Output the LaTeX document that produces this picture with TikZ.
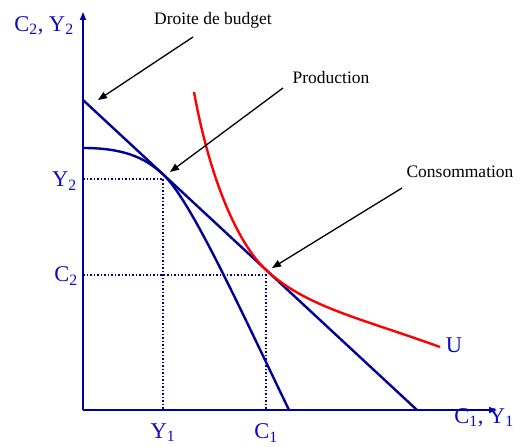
\documentclass[tikz,border=0pt]{standalone}
\usepackage{fontspec}
\setmainfont{Liberation Serif}
\usetikzlibrary{arrows.meta,calc}
\definecolor{navy}{RGB}{0,0,150}
\definecolor{lblue}{RGB}{10,10,200}
\begin{document}
\begin{tikzpicture}[x=1pt,y=-1pt,
  axis/.style={navy,line width=1.6pt,-{Triangle[length=8pt,width=6pt]}},
  curve/.style={navy,line width=2.4pt},
  ucurve/.style={red,line width=2.4pt},
  guide/.style={navy,line width=1.5pt,dotted},
  note/.style={font=\fontsize{17.5}{20}\selectfont,inner sep=0pt},
  lab/.style={lblue,font=\fontsize{22.5}{26}\selectfont,inner sep=0pt},
  pointer/.style={black,line width=1.3pt,-{Triangle[length=9pt,width=7pt]}}]
\useasboundingbox (0,0) rectangle (526,446);
% axes
\coordinate (O) at (83,410);
\coordinate (ytop) at (83,12);
\coordinate (xend) at (497,410);
\draw[axis] (O) -- (ytop);
\draw[axis] (O) -- (xend);
% key points
\coordinate (G1) at (163,179);
\coordinate (G2) at (266,275);
\coordinate (B0) at (83,100);
\coordinate (B1) at (417,410);
\coordinate (P) at (163,174.3);
\coordinate (Cpt) at (266,269.9);
\coordinate (F0) at (83,148);
\coordinate (F1) at (289,410);
\coordinate (U0) at (194,92);
\coordinate (U1) at (440,347);
% guides
\draw[guide] (O |- G1) -- (G1) -- (G1 |- O);
\draw[guide] (O |- G2) -- (G2) -- (G2 |- O);
% budget line
\draw[curve] (B0) -- (B1);
% production frontier
\draw[curve] (F0) .. controls (122,148) and (144,156.7) .. (P)
  .. controls (190,199.3) and (236,300) .. (F1);
% indifference curve
\draw[ucurve] (U0) .. controls (210,180) and (238,243.9) .. (Cpt)
  .. controls (306,307) and (360,318) .. (U1);
% labels
\node[lab] (ylab) at (44,26) {C\textsubscript{2}, Y\textsubscript{2}};
\node[lab] (xlab) at (484,418) {C\textsubscript{1}, Y\textsubscript{1}};
\node[lab,anchor=east] (y2) at (77,181) {Y\textsubscript{2}};
\node[lab,anchor=east] (c2) at (78,276) {C\textsubscript{2}};
\node[lab] (y1) at (163,433) {Y\textsubscript{1}};
\node[lab] (c1) at (266,433) {C\textsubscript{1}};
\node[lab] (ulab) at (454,345) {U};
% annotations
\node[note] (nb) at (213,20) {Droite de budget};
\node[note] (np) at (331,78) {Production};
\node[note] (nc) at (460,172) {Consommation};
\coordinate (sb) at (193,37);
\coordinate (eb) at (98,100);
\coordinate (sp) at (283,88);
\coordinate (ep) at (170,172);
\coordinate (sc) at (402,188);
\coordinate (ec) at (272,268);
\draw[pointer] (sb) -- (eb);
\draw[pointer] (sp) -- (ep);
\draw[pointer] (sc) -- (ec);
\end{tikzpicture}
\end{document}
